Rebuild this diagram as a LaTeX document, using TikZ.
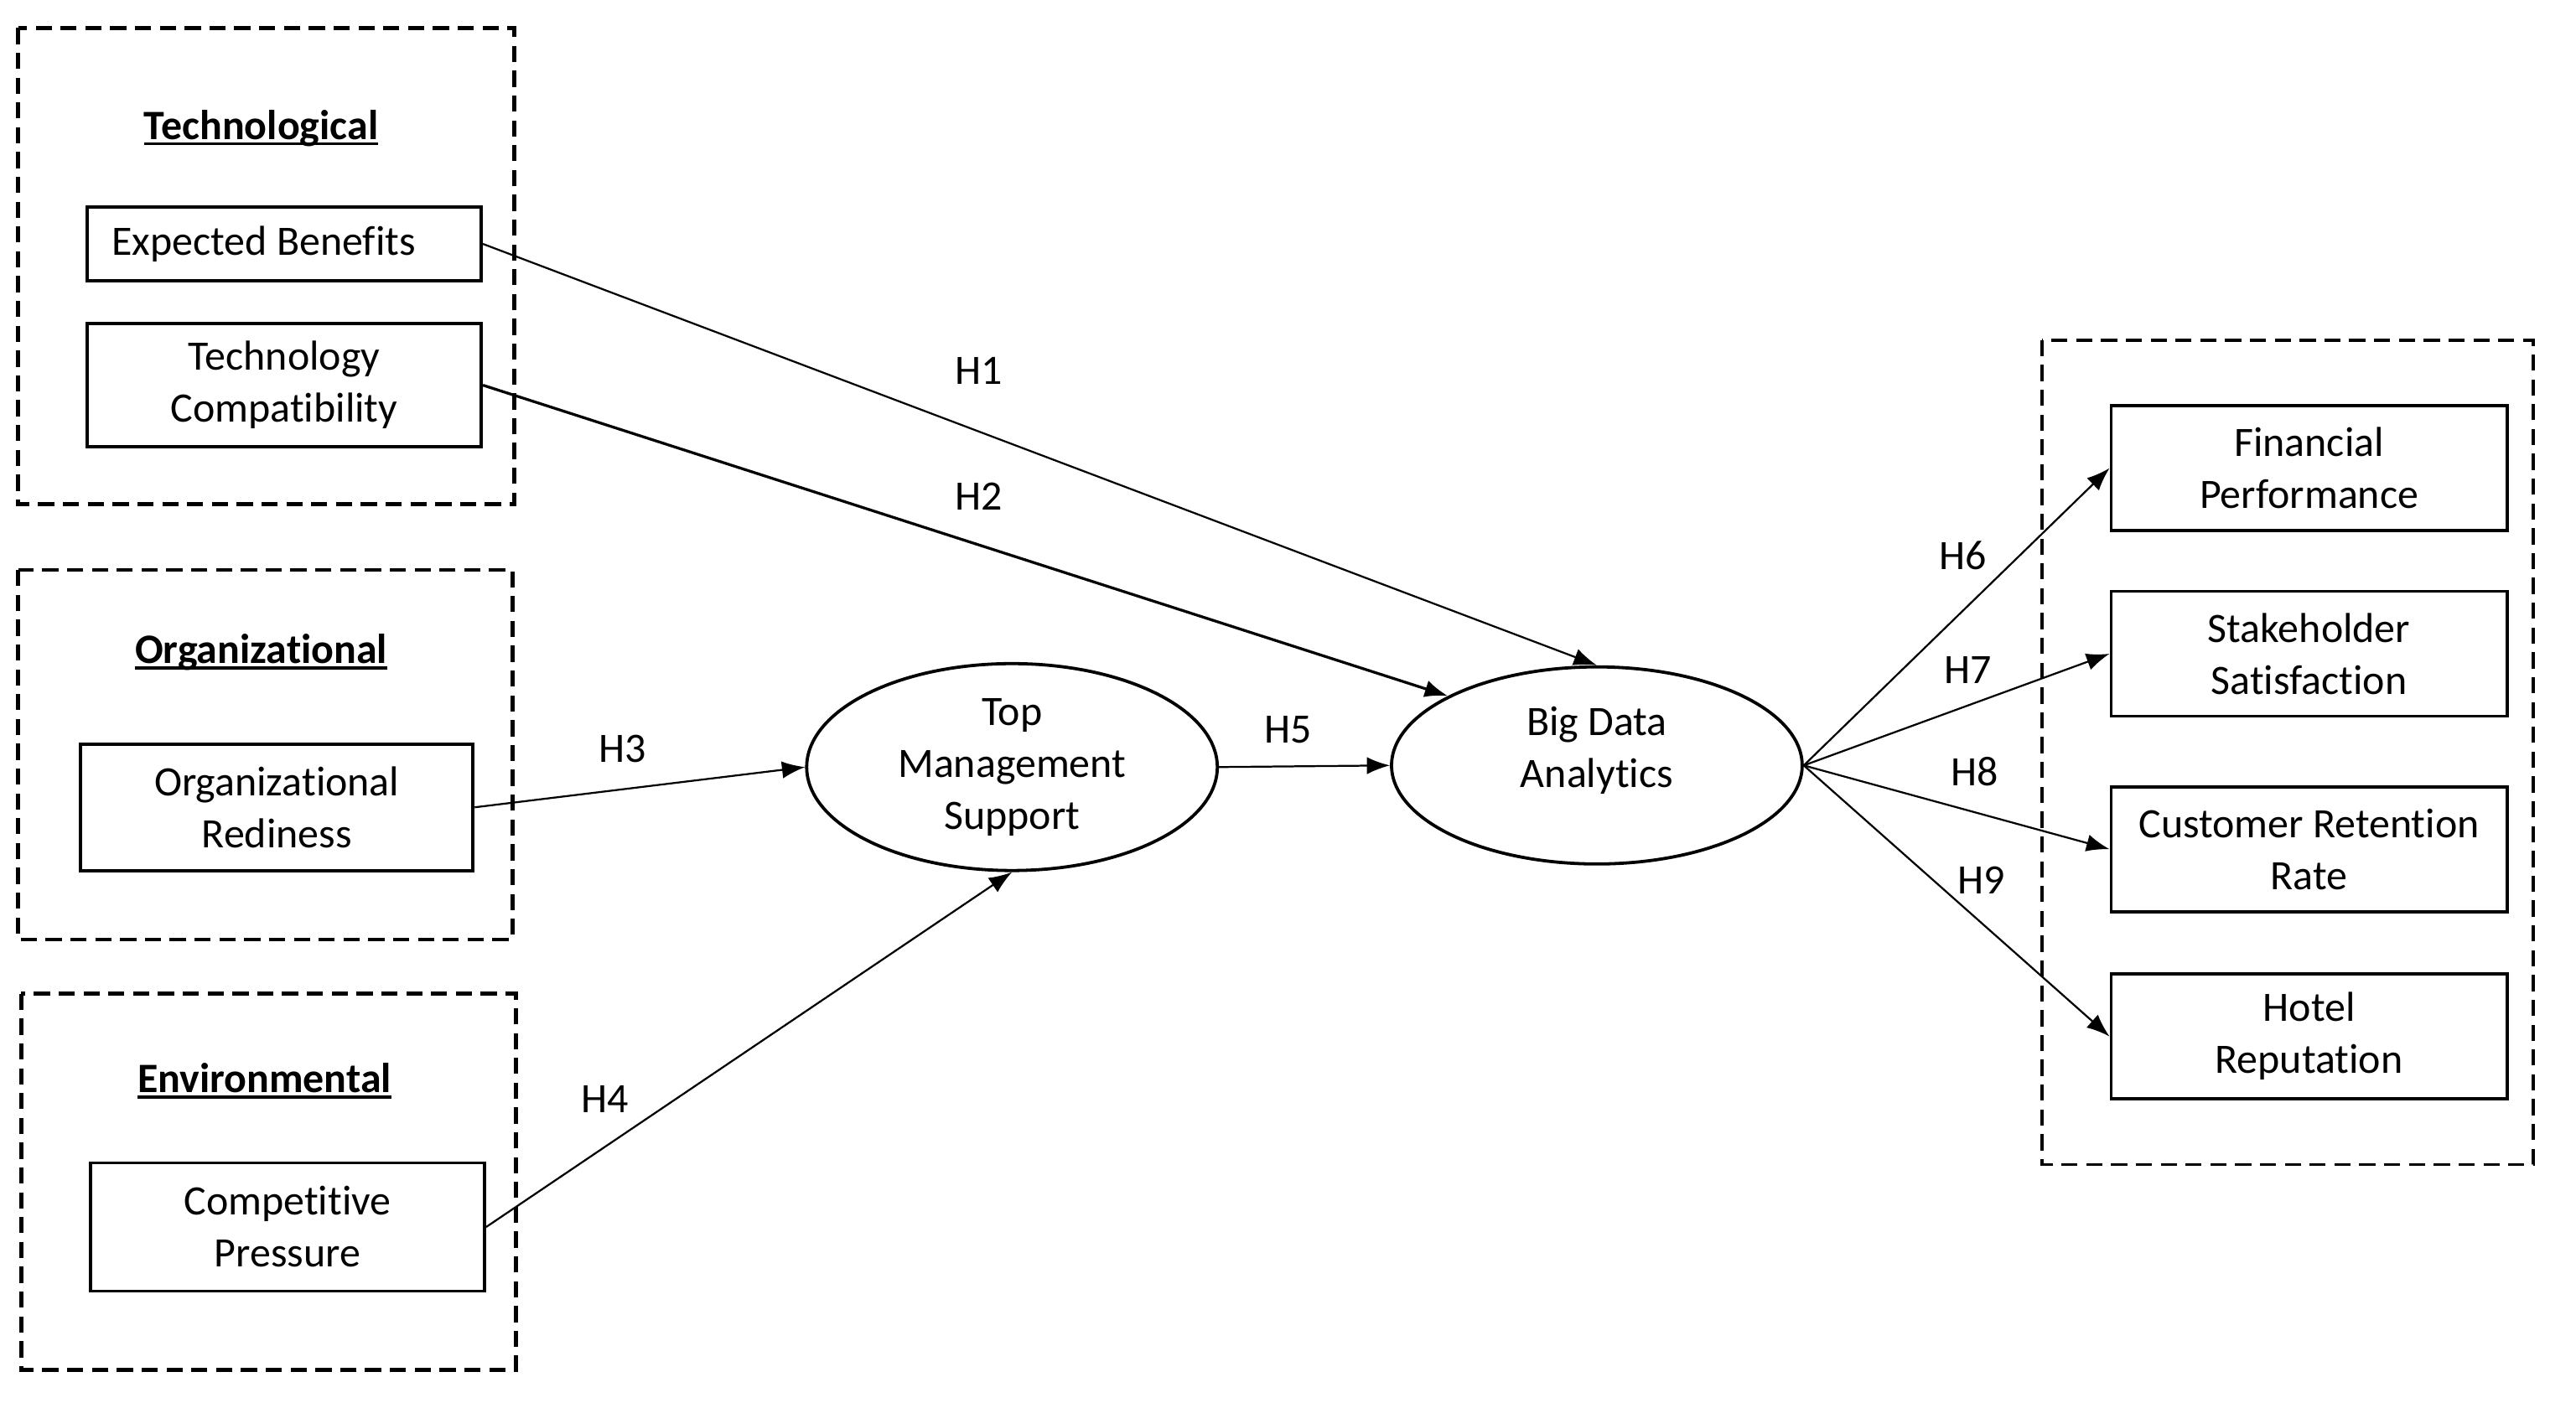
\documentclass[tikz,border=0pt]{standalone}
\usepackage{fontspec}
\setmainfont{Carlito}[Ligatures=NoCommon]
\usetikzlibrary{shapes.geometric,arrows.meta}
\newcommand{\grpul}[1]{\setbox0\hbox{#1}\rlap{#1}\rule[-2.1pt]{\wd0}{1pt}}

\begin{document}
\begin{tikzpicture}[x=0.02cm,y=-0.02cm,>={Latex[length=8pt,width=6pt]},
    font=\fontsize{14.5}{18}\selectfont,
    var/.style={draw,line width=1.1pt,minimum width=4.8cm,inner sep=0pt,align=center},
    latent/.style={draw,ellipse,line width=1.1pt,minimum width=5cm,inner sep=0pt,align=center},
    grp/.style={draw,line width=1.3pt,dash pattern=on 5.6pt off 3pt},
    grptitle/.style={font=\fontsize{14.5}{18}\selectfont\bfseries},
    hyp/.style={->,line width=0.65pt}
  ]
    \useasboundingbox (0,0) rectangle (1568,854);

    % groups of factors
    \draw[grp] (11,17) rectangle (313,307);
    \draw[grp] (11,347) rectangle (312,572);
    \draw[grp] (13,605) rectangle (314,834);
    \draw[grp,line width=1.1pt] (1243,207) rectangle (1542,709);

    \node[grptitle] (tech) at (159,78) {\grpul{Technological}};
    \node[grptitle] (org) at (159,397) {\grpul{Organizational}};
    \node[grptitle] (env) at (161,658) {\grpul{Environmental}};

    % factors
    \node[var,minimum height=0.9cm] (eb) at (173,148.5) {Expected Benefits\hspace*{0.5cm}};
    \node[var,minimum height=1.5cm] (tc) at (173,234.5) {Technology\\Compatibility};
    \node[var,minimum width=4.78cm,minimum height=1.54cm] (orr) at (168.5,491.5) {Organizational\\Rediness};
    \node[var,minimum height=1.56cm] (cp) at (175,747) {Competitive\\Pressure};

    % mediators
    \node[latent,minimum height=2.52cm] (tms) at (616,467) {Top\\Management\\Support};
    \node[latent,minimum height=2.4cm] (bda) at (972,466)
      {\raisebox{1.3pt}[0pt][0pt]{\begin{tabular}{@{}c@{}}Big Data\\Analytics\end{tabular}}};

    % outcomes
    \node[var,minimum width=4.82cm,minimum height=1.52cm] (fp) at (1405.5,285) {Financial\\Performance};
    \node[var,minimum width=4.82cm,minimum height=1.52cm] (ss) at (1405.5,398) {Stakeholder\\Satisfaction};
    \node[var,minimum width=4.82cm,minimum height=1.52cm] (crr) at (1405.5,517) {Customer Retention\\Rate};
    \node[var,minimum width=4.82cm,minimum height=1.52cm] (hr) at (1405.5,631) {Hotel\\Reputation};

    % hypotheses
    \draw[hyp] (eb.east) -- (bda.north);
    \draw[hyp,line width=0.95pt] (tc.east) -- (bda.155);
    \draw[hyp] (orr.east) -- (tms.west);
    \draw[hyp] (cp.east) -- (tms.south);
    \draw[hyp] (tms.east) -- (bda.west);
    \draw[hyp] (bda.east) -- (fp.west);
    \draw[hyp] (bda.east) -- (ss.west);
    \draw[hyp] (bda.east) -- (crr.west);
    \draw[hyp] (bda.east) -- (hr.west);

    \node (h1) at (596,226) {H1};
    \node (h2) at (596,302) {H2};
    \node (h3) at (379,456) {H3};
    \node (h4) at (368,669) {H4};
    \node (h5) at (784,444) {H5};
    \node (h6) at (1195,338) {H6};
    \node (h7) at (1198,408) {H7};
    \node (h8) at (1202,470) {H8};
    \node (h9) at (1206,536) {H9};
\end{tikzpicture}
\end{document}
